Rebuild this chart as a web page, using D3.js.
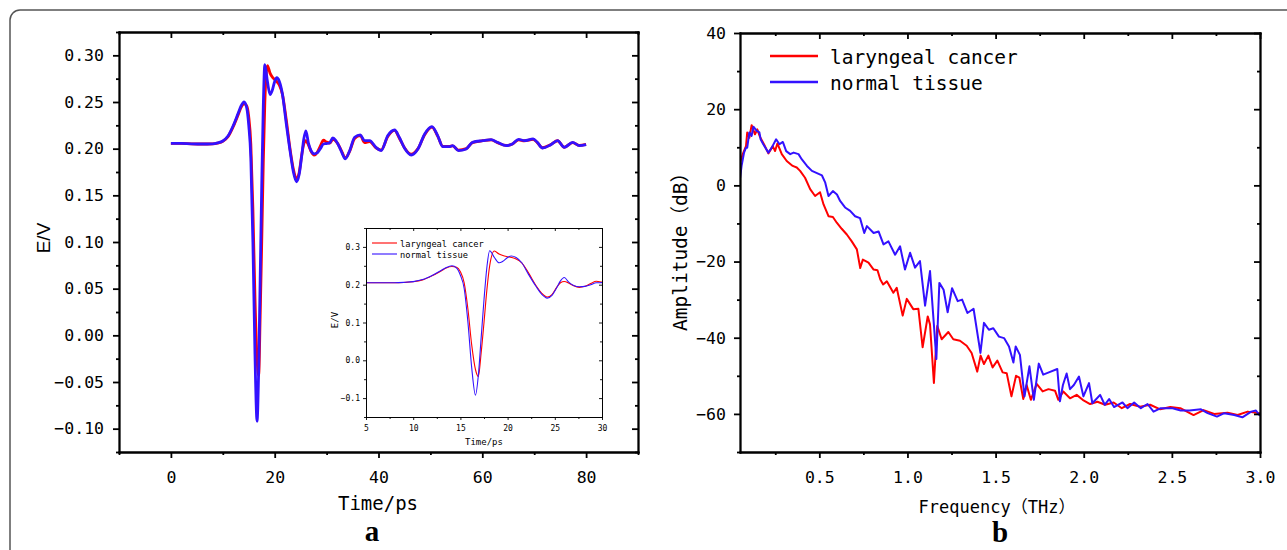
<!DOCTYPE html>
<html lang="en">
<head>
<meta charset="utf-8">
<title>THz signals: laryngeal cancer vs normal tissue</title>
<script src="https://d3js.org/d3.v7.min.js"></script>
<style>
  body { margin: 0; background: #fff; }
</style>
</head>
<body>
<div id="chart"></div>
<script>
// ---- time domain signal (panel a) ----
const timePs = [
  0, 2, 4, 6, 8, 9, 10, 11, 12, 13,
  13.5, 14.1, 14.6, 15.0, 15.4, 15.8, 16.2, 16.6, 16.9, 17.2,
  17.5, 17.8, 18.1, 18.6, 19.1, 19.5, 20.0, 20.4, 20.9, 21.5,
  22.2, 23.0, 23.6, 24.2, 24.7, 25.2, 25.6, 26.0, 26.5, 27.0,
  27.6, 28.2, 28.8, 29.4, 30.0, 30.6, 31.2, 31.8, 32.5, 33.0,
  33.6, 34.5, 35.4, 36.5, 37.3, 38.3, 39.5, 40.5, 41.8, 43.1,
  44.0, 45.0, 46.3, 47.6, 48.9, 50.3, 51.4, 52.4, 53.6, 54.3,
  55.4, 56.9, 58.1, 60.1, 61.7, 62.9, 64.6, 65.8, 67.0, 68.1,
  69.8, 70.6, 71.6, 73.2, 74.5, 75.8, 77.4, 78.7, 80.0
];
const cancerE = [
  0.2057, 0.2056, 0.2052, 0.2050, 0.2052, 0.2060, 0.2078, 0.2128, 0.2235, 0.2370,
  0.2440, 0.2480, 0.2460, 0.2340, 0.2050, 0.1350, 0.0400, -0.0250, -0.0430, 0.0200,
  0.1000, 0.1850, 0.2500, 0.2890, 0.2810, 0.2770, 0.2740, 0.2720, 0.2680, 0.2580,
  0.2320, 0.1980, 0.1780, 0.1675, 0.1740, 0.1930, 0.2050, 0.2085, 0.2040, 0.1970,
  0.1930, 0.1960, 0.2030, 0.2090, 0.2070, 0.2060, 0.2100, 0.2080, 0.2020, 0.1960,
  0.1900, 0.1980, 0.2110, 0.2140, 0.2065, 0.2075, 0.2010, 0.1985, 0.2130, 0.2195,
  0.2115, 0.2010, 0.1940, 0.2000, 0.2150, 0.2230, 0.2135, 0.2025, 0.2025, 0.2030,
  0.1985, 0.2000, 0.2065, 0.2085, 0.2095, 0.2065, 0.2035, 0.2050, 0.2095, 0.2085,
  0.2100, 0.2065, 0.2010, 0.2045, 0.2085, 0.2015, 0.2065, 0.2035, 0.2045
];
const normalE = [
  0.2057, 0.2056, 0.2052, 0.2050, 0.2052, 0.2062, 0.2082, 0.2135, 0.2245, 0.2385,
  0.2455, 0.2500, 0.2440, 0.2250, 0.1900, 0.1000, -0.0200, -0.0920, -0.0400, 0.0600,
  0.1600, 0.2450, 0.2900, 0.2720, 0.2580, 0.2620, 0.2720, 0.2760, 0.2720, 0.2580,
  0.2280, 0.1960, 0.1750, 0.1645, 0.1720, 0.1920, 0.2100, 0.2190, 0.2060, 0.1980,
  0.1945, 0.1955, 0.2000, 0.2050, 0.2055, 0.2064, 0.2115, 0.2085, 0.2014, 0.1950,
  0.1890, 0.1986, 0.2122, 0.2147, 0.2086, 0.2086, 0.2014, 0.1979, 0.2140, 0.2200,
  0.2122, 0.2007, 0.1932, 0.1997, 0.2157, 0.2236, 0.2140, 0.2021, 0.2021, 0.2032,
  0.1979, 0.1997, 0.2068, 0.2086, 0.2097, 0.2068, 0.2032, 0.2050, 0.2100, 0.2086,
  0.2104, 0.2068, 0.2007, 0.2043, 0.2086, 0.2014, 0.2068, 0.2032, 0.2043
];

// ---- frequency spectrum (panel b) ----
const freqCancer = [
  0.050, 0.069, 0.084, 0.091, 0.103, 0.116, 0.135, 0.148, 0.163, 0.186,
  0.211, 0.236, 0.249, 0.262, 0.287, 0.315, 0.349, 0.372, 0.391, 0.419,
  0.448, 0.476, 0.504, 0.524, 0.552, 0.577, 0.599, 0.627, 0.656, 0.684,
  0.713, 0.732, 0.747, 0.779, 0.808, 0.830, 0.846, 0.862, 0.883, 0.920,
  0.939, 0.973, 0.996, 1.033, 1.062, 1.086, 1.115, 1.128, 1.150, 1.169,
  1.194, 1.232, 1.260, 1.298, 1.336, 1.364, 1.396, 1.415, 1.434, 1.459,
  1.483, 1.510, 1.540, 1.563, 1.590, 1.616, 1.635, 1.657, 1.676, 1.700,
  1.733, 1.767, 1.800, 1.837, 1.856, 1.884, 1.922, 1.960, 1.994, 2.036,
  2.078, 2.121, 2.170, 2.216, 2.263, 2.320, 2.377, 2.434, 2.491, 2.548,
  2.623, 2.680, 2.740, 2.816, 2.873, 2.930, 3.000
];
const ampCancer = [
  6.0, 8.6, 10.3, 13.9, 12.5, 15.8, 13.4, 14.7, 12.8, 10.8,
  8.4, 10.3, 9.0, 11.0, 8.2, 6.4, 5.1, 4.7, 3.8, 2.0,
  -1.0, -2.8, -1.8, -5.0, -8.1, -8.3, -9.8, -11.4, -12.9, -14.7,
  -16.8, -21.7, -19.5, -20.3, -22.1, -22.3, -24.7, -26.0, -25.2, -28.2,
  -26.9, -34.2, -29.8, -32.5, -32.4, -42.5, -34.4, -36.5, -51.9, -36.9,
  -40.4, -38.5, -40.4, -40.8, -42.1, -44.0, -48.9, -44.7, -46.9, -44.7,
  -47.8, -46.0, -49.1, -49.3, -55.4, -50.0, -50.5, -56.1, -52.4, -56.3,
  -52.1, -54.1, -53.5, -53.9, -56.3, -54.1, -55.9, -55.0, -56.3, -57.4,
  -56.8, -57.6, -57.0, -58.5, -57.4, -58.1, -57.6, -58.8, -58.2, -58.5,
  -60.3, -59.0, -60.0, -59.7, -60.3, -59.4, -59.8
];
const freqNormal = [
  0.050, 0.059, 0.073, 0.084, 0.091, 0.103, 0.116, 0.126, 0.145, 0.160,
  0.167, 0.182, 0.211, 0.230, 0.255, 0.274, 0.293, 0.312, 0.335, 0.354,
  0.382, 0.401, 0.430, 0.458, 0.496, 0.515, 0.533, 0.552, 0.577, 0.600,
  0.618, 0.646, 0.675, 0.703, 0.731, 0.755, 0.770, 0.808, 0.836, 0.864,
  0.892, 0.930, 0.958, 0.986, 1.015, 1.043, 1.071, 1.100, 1.128, 1.164,
  1.181, 1.205, 1.228, 1.253, 1.285, 1.310, 1.340, 1.375, 1.414, 1.434,
  1.462, 1.487, 1.519, 1.548, 1.576, 1.601, 1.614, 1.638, 1.664, 1.692,
  1.717, 1.745, 1.770, 1.802, 1.850, 1.865, 1.882, 1.903, 1.922, 1.944,
  1.973, 1.998, 2.030, 2.049, 2.093, 2.119, 2.144, 2.172, 2.220, 2.248,
  2.286, 2.324, 2.362, 2.396, 2.437, 2.504, 2.550, 2.600, 2.665, 2.703,
  2.756, 2.797, 2.854, 2.900, 2.950, 2.977, 3.000
];
const ampNormal = [
  1.8, 5.1, 8.6, 9.9, 9.9, 13.9, 13.0, 15.4, 14.3, 13.9,
  12.1, 10.8, 8.6, 9.9, 12.1, 10.8, 11.4, 9.0, 8.2, 8.6,
  8.2, 6.8, 5.1, 3.8, 3.0, 2.6, 0.8, -2.8, -1.5, -2.4,
  -4.1, -5.8, -6.7, -8.1, -8.6, -12.5, -10.7, -12.5, -12.1, -15.5,
  -14.7, -18.2, -16.0, -22.1, -17.7, -21.6, -19.9, -31.6, -22.5, -45.6,
  -25.6, -27.4, -33.3, -27.0, -30.4, -30.0, -33.5, -32.4, -44.0, -36.1,
  -37.9, -37.5, -39.7, -40.1, -42.3, -46.5, -42.3, -44.5, -55.4, -47.5,
  -56.3, -46.8, -49.7, -49.1, -48.2, -56.7, -52.4, -49.4, -53.5, -52.4,
  -50.2, -55.4, -51.9, -57.2, -55.0, -57.6, -56.1, -58.2, -57.0, -58.5,
  -57.0, -58.5, -57.4, -59.4, -58.5, -58.5, -59.1, -59.1, -58.8, -59.8,
  -60.7, -59.8, -60.3, -60.9, -59.4, -59.1, -60.5
];

// ---- names, ticks ----
const seriesNames = ['laryngeal cancer', 'normal tissue'];
const timeTicks = [0, 20, 40, 60, 80];
const timeMinor = [-10, 10, 30, 50, 70, 90];
const fieldTicks = [-0.10, -0.05, 0.00, 0.05, 0.10, 0.15, 0.20, 0.25, 0.30];
const fieldMinor = [-0.125, -0.075, -0.025, 0.025, 0.075, 0.125, 0.175, 0.225, 0.275, 0.325];
const insetTimeTicks = [5, 10, 15, 20, 25, 30];
const insetTimeMinor = [7.5, 12.5, 17.5, 22.5, 27.5];
const insetFieldTicks = [-0.1, 0.0, 0.1, 0.2, 0.3];
const insetFieldMinor = [-0.15, -0.05, 0.05, 0.15, 0.25, 0.35];
const freqTicks = [0.5, 1.0, 1.5, 2.0, 2.5, 3.0];
const freqMinor = [0.25, 0.75, 1.25, 1.75, 2.25, 2.75];
const ampTicks = [-60, -40, -20, 0, 20, 40];
const ampMinor = [-70, -50, -30, -10, 10, 30];

const RED = '#ff0000';
const BLUE = '#3311ff';
const MONO = '"DejaVu Sans Mono", "Noto Sans CJK SC", monospace';

const W = 1287, H = 550;
const svg = d3.select('#chart').append('svg')
  .attr('width', W).attr('height', H)
  .style('background', '#fff')
  .style('font-family', MONO);

// outer rounded frame (runs off the right/bottom edges)
svg.append('rect')
  .attr('x', 10).attr('y', 10).attr('width', 1330).attr('height', 600).attr('rx', 10)
  .attr('fill', 'none').attr('stroke', '#555').attr('stroke-width', 1.5);

// draws the four sides of a box with mirrored ticks, origin-style
function frame(g, x, y, o) {
  const [left, right] = x.range();
  const [bottom, top] = y.range();
  const put = (axis, tx, ty) => g.append('g')
    .attr('transform', `translate(${tx},${ty})`)
    .call(axis)
    .call(a => a.select('.domain').attr('stroke', '#000').attr('stroke-width', o.lw).attr('stroke-linecap', 'square'))
    .call(a => a.selectAll('.tick line').attr('stroke', '#000').attr('stroke-width', o.lw))
    .call(a => a.selectAll('text').style('font-size', o.fs + 'px').style('font-family', MONO).attr('fill', '#000'));

  put(d3.axisBottom(x).tickValues(o.xMajor).tickFormat(o.xFmt).tickSize(o.major).tickPadding(o.xPad).tickSizeOuter(0), 0, bottom);
  put(d3.axisBottom(x).tickValues(o.xMinor).tickFormat('').tickSize(o.minor).tickSizeOuter(0), 0, bottom);
  put(d3.axisBottom(x).tickValues(o.xMajor).tickFormat('').tickSize(o.major).tickSizeOuter(0), 0, top);
  put(d3.axisBottom(x).tickValues(o.xMinor).tickFormat('').tickSize(o.minor).tickSizeOuter(0), 0, top);
  put(d3.axisLeft(y).tickValues(o.yMajor).tickFormat(o.yFmt).tickSize(o.major).tickPadding(o.yPad).tickSizeOuter(0), left, 0);
  put(d3.axisLeft(y).tickValues(o.yMinor).tickFormat('').tickSize(o.minor).tickSizeOuter(0), left, 0);
  put(d3.axisLeft(y).tickValues(o.yMajor).tickFormat('').tickSize(o.major).tickSizeOuter(0), right, 0);
  put(d3.axisLeft(y).tickValues(o.yMinor).tickFormat('').tickSize(o.minor).tickSizeOuter(0), right, 0);
}

function clip(id, x, y) {
  const [l, r] = x.range(), [b, t] = y.range();
  svg.append('clipPath').attr('id', id)
    .append('rect').attr('x', l).attr('y', t).attr('width', r - l).attr('height', b - t);
  return `url(#${id})`;
}

const timeRows = timePs.map((t, i) => ({ t: t, cancer: cancerE[i], normal: normalE[i] }));

// ================= panel a =================
const xTime = d3.scaleLinear().domain([-10, 90]).range([119, 638]);
const yTime = d3.scaleLinear().domain([-0.125, 0.325]).range([452, 32]);

const gA = svg.append('g');
const clipA = clip('clipA', xTime, yTime);
[['cancer', RED], ['normal', BLUE]].forEach(([key, col]) => {
  gA.append('path')
    .datum(timeRows)
    .attr('clip-path', clipA)
    .attr('fill', 'none').attr('stroke', col).attr('stroke-width', 2.8)
    .attr('stroke-linejoin', 'round')
    .attr('d', d3.line().x(d => xTime(d.t)).y(d => yTime(d[key])).curve(d3.curveMonotoneX));
});

frame(gA, xTime, yTime, {
  xMajor: timeTicks, xMinor: timeMinor, yMajor: fieldTicks, yMinor: fieldMinor,
  xFmt: d3.format('d'), yFmt: d3.format('.2f'),
  major: 6, minor: 3, xPad: 13, yPad: 9, fs: 16.5, lw: 1.8
});

svg.append('text').attr('x', 378).attr('y', 510).attr('text-anchor', 'middle')
  .style('font-size', '19px').text('Time/ps');
svg.append('text').attr('transform', 'translate(50,238) rotate(-90)').attr('text-anchor', 'middle')
  .style('font-family', '"Liberation Sans", Arial, sans-serif').style('font-size', '19px').text('E/V');
svg.append('text').attr('x', 372).attr('y', 541).attr('text-anchor', 'middle')
  .style('font-family', '"Liberation Serif", "Times New Roman", serif').style('font-weight', 'bold')
  .style('font-size', '29px').text('a');

// ---- inset ----
const xIn = d3.scaleLinear().domain([5, 30]).range([366, 602]);
const yIn = d3.scaleLinear().domain([-0.15, 0.35]).range([417, 228]);
const gIn = svg.append('g');
gIn.append('rect').attr('x', 366).attr('y', 228).attr('width', 236).attr('height', 189).attr('fill', '#fff');
const clipIn = clip('clipIn', xIn, yIn);
const insetRows = timeRows.filter(d => d.t >= 4 && d.t <= 31);
[['cancer', RED], ['normal', BLUE]].forEach(([key, col]) => {
  gIn.append('path')
    .datum(insetRows)
    .attr('clip-path', clipIn)
    .attr('fill', 'none').attr('stroke', col).attr('stroke-width', 1.1)
    .attr('d', d3.line().x(d => xIn(d.t)).y(d => yIn(d[key])).curve(d3.curveMonotoneX));
});
frame(gIn, xIn, yIn, {
  xMajor: insetTimeTicks, xMinor: insetTimeMinor, yMajor: insetFieldTicks, yMinor: insetFieldMinor,
  xFmt: d3.format('d'), yFmt: d3.format('.1f'),
  major: 3, minor: 2, xPad: 5, yPad: 3, fs: 8, lw: 0.9
});
[RED, BLUE].forEach((col, i) => {
  gIn.append('line').attr('x1', 372).attr('x2', 397).attr('y1', 243 + i * 11).attr('y2', 243 + i * 11)
    .attr('stroke', col).attr('stroke-width', 1.1);
  gIn.append('text').attr('x', 400).attr('y', 246.5 + i * 11)
    .style('font-size', '8.7px').text(seriesNames[i]);
});
gIn.append('text').attr('x', 484).attr('y', 445).attr('text-anchor', 'middle')
  .style('font-size', '9px').text('Time/ps');
gIn.append('text').attr('transform', 'translate(338,320) rotate(-90)').attr('text-anchor', 'middle')
  .style('font-size', '9px').text('E/V');

// ================= panel b =================
const xFreq = d3.scaleLinear().domain([0.05, 3.0]).range([740, 1260]);
const yAmp = d3.scaleLinear().domain([-70, 40]).range([452, 33]);

const gB = svg.append('g');
const clipB = clip('clipB', xFreq, yAmp);
const spectra = [
  { f: freqCancer, a: ampCancer, col: RED },
  { f: freqNormal, a: ampNormal, col: BLUE }
];
spectra.forEach(s => {
  const rows = s.f.map((f, i) => [f, s.a[i]]);
  gB.append('path')
    .datum(rows)
    .attr('clip-path', clipB)
    .attr('fill', 'none').attr('stroke', s.col).attr('stroke-width', 2)
    .attr('stroke-linejoin', 'round')
    .attr('d', d3.line().x(d => xFreq(d[0])).y(d => yAmp(d[1])));
});

frame(gB, xFreq, yAmp, {
  xMajor: freqTicks, xMinor: freqMinor, yMajor: ampTicks, yMinor: ampMinor,
  xFmt: d3.format('.1f'), yFmt: d3.format('d'),
  major: 6, minor: 3, xPad: 13, yPad: 8, fs: 16.5, lw: 1.8
});

[RED, BLUE].forEach((col, i) => {
  gB.append('line').attr('x1', 770).attr('x2', 818).attr('y1', 56 + i * 26).attr('y2', 56 + i * 26)
    .attr('stroke', col).attr('stroke-width', 2.5);
  gB.append('text').attr('x', 830).attr('y', 64 + i * 26)
    .style('font-size', '19.5px').text(seriesNames[i]);
});

svg.append('text').attr('x', 997).attr('y', 513).attr('text-anchor', 'middle')
  .style('font-size', '17px').text('Frequency（THz）');
svg.append('text').attr('transform', 'translate(687,247) rotate(-90)').attr('text-anchor', 'middle')
  .style('font-size', '19.5px').text('Amplitude（dB）');
svg.append('text').attr('x', 1000).attr('y', 542).attr('text-anchor', 'middle')
  .style('font-family', '"Liberation Serif", "Times New Roman", serif').style('font-weight', 'bold')
  .style('font-size', '29px').text('b');
</script>
</body>
</html>
